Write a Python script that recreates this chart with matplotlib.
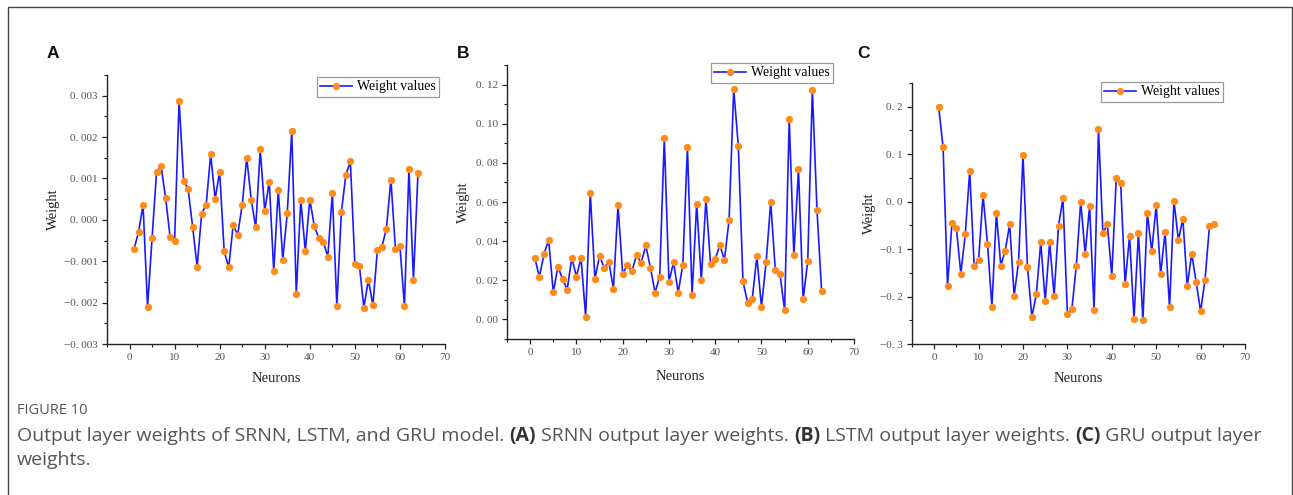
import matplotlib
matplotlib.use("Agg")
import matplotlib.pyplot as plt
from matplotlib.ticker import FuncFormatter, MultipleLocator
from matplotlib.patches import Rectangle

W, H = 1293, 495

weights_srnn = [-0.0007, -0.0003, 0.00036, -0.0021, -0.00044, 0.00116, 0.0013, 0.00053,
                -0.00041, -0.0005, 0.00287, 0.00095, 0.00074, -0.00017, -0.00113, 0.00015,
                0.00036, 0.00158, 0.00051, 0.00116, -0.00076, -0.00115, -0.00013, -0.00036,
                0.00036, 0.0015, 0.00049, -0.00018, 0.0017, 0.00022, 0.00092, -0.00124,
                0.00073, -0.00096, 0.00016, 0.00214, -0.00178, 0.00048, -0.00076, 0.00049,
                -0.00015, -0.00044, -0.00054, -0.00089, 0.00065, -0.00207, 0.00018, 0.00109,
                0.00141, -0.00107, -0.00111, -0.00212, -0.00145, -0.00206, -0.00073, -0.00065,
                -0.00021, 0.00097, -0.0007, -0.00064, -0.00208, 0.00122, -0.00145, 0.00112]

weights_lstm = [0.0315, 0.0217, 0.0334, 0.0407, 0.0139, 0.0269, 0.0208, 0.0151, 0.0315,
                0.0219, 0.0314, 0.0014, 0.0646, 0.0208, 0.0325, 0.0264, 0.0295, 0.0158,
                0.0583, 0.0232, 0.0278, 0.0246, 0.0329, 0.029, 0.0378, 0.0264, 0.0137,
                0.0219, 0.0927, 0.0192, 0.0292, 0.0137, 0.028, 0.088, 0.0124, 0.0592,
                0.02, 0.0614, 0.0281, 0.0308, 0.038, 0.0305, 0.0508, 0.1176, 0.0886,
                0.0195, 0.0086, 0.0103, 0.0322, 0.0063, 0.0292, 0.0598, 0.0251, 0.0232,
                0.0047, 0.1025, 0.0329, 0.0768, 0.0102, 0.0297, 0.1173, 0.0559, 0.0144]

weights_gru = [0.2, 0.115, -0.1774, -0.0449, -0.0561, -0.1515, -0.0687, 0.0645, -0.1353,
               -0.1227, 0.0133, -0.0884, -0.2216, -0.0245, -0.1346, -0.1031, -0.0477, -0.1978,
               -0.1276, 0.0982, -0.1367, -0.2426, -0.1956, -0.0856, -0.2104, -0.0856, -0.1978,
               -0.0505, 0.007, -0.237, -0.2272, -0.136, 0.0, -0.1101, -0.0098, -0.2279,
               0.1522, -0.0666, -0.047, -0.1564, 0.0491, 0.0386, -0.1739, -0.0722, -0.2475,
               -0.0652, -0.2503, -0.0245, -0.1045, -0.0077, -0.1529, -0.0638, -0.223, 0.0014,
               -0.0813, -0.0358, -0.1774, -0.1094, -0.1697, -0.2314, -0.1641, -0.0512, -0.0477]

panel_letters = ["A", "B", "C"]
legend_label = "Weight values"
x_label = "Neurons"
y_label = "Weight"
fig_label = "FIGURE 10"
caption_parts = [("Output layer weights of SRNN, LSTM, and GRU model. ", False),
                 ("(A)", True), (" SRNN output layer weights. ", False),
                 ("(B)", True), (" LSTM output layer weights. ", False),
                 ("(C)", True), (" GRU output layer", False)]
caption_line2 = "weights."

SERIF = ["Liberation Serif", "DejaVu Serif"]
LINE_C = "#1a1aff"
MARK_C = "#ff8c1a"
TICK_C = "#555555"

fig = plt.figure(figsize=(W / 100, H / 100), dpi=100)
fig.patch.set_facecolor("white")

# outer frame
fig.add_artist(Rectangle((8 / W, -0.1), (1291.5 - 8) / W, 1.1 - 7 / H,
                         transform=fig.transFigure, fill=False,
                         edgecolor="#444444", linewidth=1.0))


def fmt_factory(dec):
    def f(v, pos):
        s = f"{abs(v):.{dec}f}".replace(".", ". ")
        if v < -1e-12:
            s = "\u2212" + s
        return s
    return FuncFormatter(f)


# pixel boxes: left, top, right, bottom
boxes = [(107, 75, 445, 344), (507, 65, 854, 339), (912, 83, 1245, 344)]
ylims = [(-0.003, 0.0035), (-0.01, 0.13), (-0.3, 0.25)]
ymaj = [0.001, 0.02, 0.1]
ymin = [0.0005, 0.01, 0.05]
decs = [3, 2, 1]
datas = [weights_srnn, weights_lstm, weights_gru]
leg_pos = [(439, 77), (833, 63), (1223, 82)]
letter_pos = [(53, 53), (463, 53), (864, 53)]
ylab_x = [60, 470, 876]
xlab_pad = [7.5, 9.5, 7.5]

for i in range(3):
    l, t, r, b = boxes[i]
    ax = fig.add_axes([l / W, 1 - b / H, (r - l) / W, (b - t) / H])
    y = datas[i]
    x = list(range(1, len(y) + 1))
    ax.plot(x, y, color=LINE_C, linewidth=1.2, marker="o", markersize=4.2,
            markerfacecolor=MARK_C, markeredgecolor=MARK_C, label=legend_label)
    ax.set_xlim(-5, 70)
    ax.set_ylim(*ylims[i])
    ax.xaxis.set_major_locator(MultipleLocator(10))
    ax.xaxis.set_minor_locator(MultipleLocator(5))
    ax.yaxis.set_major_locator(MultipleLocator(ymaj[i]))
    ax.yaxis.set_minor_locator(MultipleLocator(ymin[i]))
    ax.yaxis.set_major_formatter(fmt_factory(decs[i]))
    ax.xaxis.set_major_formatter(FuncFormatter(lambda v, p: f"{int(round(v))}"))
    for s in ["top", "right"]:
        ax.spines[s].set_visible(False)
    for s in ["left", "bottom"]:
        ax.spines[s].set_color("#222222")
        ax.spines[s].set_linewidth(1.0)
    ax.tick_params(which="major", direction="out", length=3.5, width=0.9,
                   color="#222222", labelcolor=TICK_C, labelsize=8, pad=3)
    ax.tick_params(which="minor", direction="out", length=2, width=0.8, color="#222222")
    for lab in ax.get_xticklabels() + ax.get_yticklabels():
        lab.set_fontfamily(SERIF)
    ax.set_xlabel(x_label, fontsize=10.5, family=SERIF, color="#222222",
                  labelpad=xlab_pad[i])
    ax.set_ylabel(y_label, fontsize=10.5, family=SERIF, color="#222222")
    ax.yaxis.set_label_coords((ylab_x[i] - l) / (r - l), 0.5)
    lx, ly = leg_pos[i]
    leg = ax.legend(loc="upper right", bbox_to_anchor=(lx / W, 1 - ly / H),
                    bbox_transform=fig.transFigure, prop={"family": SERIF, "size": 10},
                    fancybox=False, framealpha=1, edgecolor="#999999",
                    handlelength=2.3, handletextpad=0.35, borderpad=0.25,
                    borderaxespad=0)
    leg.get_frame().set_linewidth(0.9)
    px, py = letter_pos[i]
    fig.text(px / W, 1 - py / H, panel_letters[i], fontsize=12.5, fontweight="bold",
             family="Liberation Sans", ha="center", va="center", color="#111111")

# caption
CAP_FONT = "Open Sans"
fig.text(17 / W, 1 - 410 / H, fig_label, fontsize=10.5, family=CAP_FONT,
         color="#555555", ha="left", va="center")

renderer = fig.canvas.get_renderer()
xpos = 17
for txt, bold in caption_parts:
    t = fig.text(xpos / W, 1 - 436 / H, txt, fontsize=14, family=CAP_FONT,
                 color="#333333" if bold else "#555555",
                 fontweight="bold" if bold else "normal", ha="left", va="center")
    bb = t.get_window_extent(renderer=renderer)
    xpos = bb.x1
fig.text(17 / W, 1 - 460 / H, caption_line2, fontsize=14, family=CAP_FONT,
         color="#555555", ha="left", va="center")

fig.savefig("out.png", dpi=100, facecolor="white")
